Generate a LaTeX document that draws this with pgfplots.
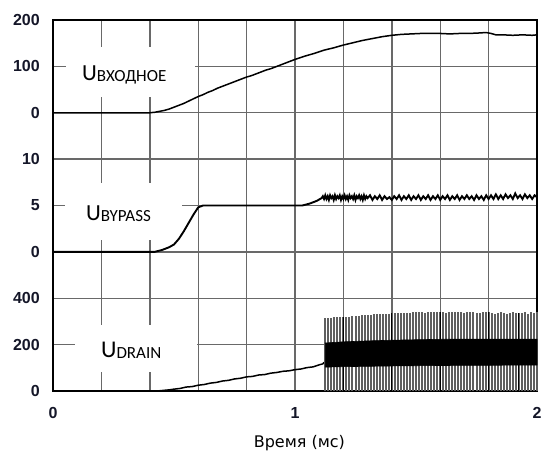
\documentclass[border=0pt]{standalone}
\usepackage{pgfplots}
\pgfplotsset{compat=1.18}
\usepackage{fontspec}
\setmainfont{Liberation Sans}
\newfontfamily\labelfont{Carlito}
\newfontfamily\axisfont{DejaVu Sans}
\definecolor{gridgray}{RGB}{105,105,105}
\definecolor{spikegray}{RGB}{95,95,95}
\definecolor{ticktext}{RGB}{20,22,40}

% Input voltage, V
\pgfplotstableread{
t v
0.00 0
0.10 0
0.20 0
0.30 0
0.40 0
0.42 1
0.44 3
0.46 5
0.48 8
0.50 12
0.52 16
0.54 20
0.56 25
0.58 30
0.60 35
0.62 39
0.64 44
0.66 48
0.68 53
0.70 57
0.72 61
0.74 65
0.76 69
0.78 73
0.80 77
0.82 80
0.84 84
0.86 88
0.88 92
0.90 95
0.92 99
0.94 103
0.96 107
0.98 111
1.00 115
1.04 122
1.08 128
1.12 135
1.16 140
1.20 146
1.24 151
1.28 156
1.32 160
1.36 164
1.40 167
1.44 169
1.48 170
1.52 171
1.56 171
1.60 171
1.64 170
1.68 171
1.72 171
1.76 172
1.79 173
1.81 171
1.83 168
1.86 168
1.90 167
1.94 168
1.98 167
2.00 168
}\inputdata

% BYPASS pin voltage, V
\pgfplotstableread{
t v
0.00 0
0.10 0
0.20 0
0.30 0
0.42 0
0.45 0.2
0.48 0.5
0.50 0.8
0.52 1.4
0.54 2.2
0.56 3.1
0.58 4.0
0.60 4.8
0.62 5.0
0.70 5.0
0.80 5.0
0.90 5.0
1.00 5.0
1.03 5.0
1.06 5.2
1.09 5.5
1.11 5.8
1.115 6.0
1.12 5.7
1.125 6.1
1.13 5.7
1.135 6.0
1.14 5.6
1.145 6.1
1.15 5.8
1.155 6.0
1.16 5.6
1.165 6.1
1.17 5.7
1.175 6.0
1.18 5.8
1.185 6.1
1.19 5.6
1.195 6.0
1.20 5.7
1.205 6.1
1.21 5.7
1.215 6.0
1.22 5.6
1.225 6.1
1.23 5.8
1.235 6.0
1.24 5.7
1.245 6.1
1.25 5.6
1.255 6.0
1.26 5.8
1.265 6.1
1.27 5.7
1.275 6.0
1.28 5.6
1.285 6.1
1.29 5.7
1.295 6.0
1.30 5.8
1.31 6.1
1.32 5.6
1.33 6.0
1.34 5.7
1.35 6.1
1.36 5.6
1.37 6.0
1.38 5.7
1.39 5.9
1.40 5.6
1.41 6.0
1.42 5.7
1.43 6.1
1.44 5.6
1.45 6.0
1.46 5.7
1.47 6.1
1.48 5.6
1.49 6.0
1.50 5.7
1.51 6.1
1.52 5.6
1.53 6.0
1.54 5.7
1.55 6.1
1.56 5.6
1.57 6.0
1.58 5.7
1.59 6.1
1.60 5.6
1.61 6.0
1.62 5.7
1.63 6.1
1.64 5.6
1.65 6.0
1.66 5.7
1.67 6.1
1.68 5.6
1.69 6.0
1.70 5.7
1.71 6.1
1.72 5.7
1.73 6.0
1.74 5.6
1.75 6.1
1.76 5.7
1.77 6.0
1.78 5.6
1.79 6.1
1.80 5.7
1.81 6.1
1.82 5.7
1.83 6.2
1.84 5.7
1.85 6.1
1.86 5.7
1.87 6.2
1.88 5.8
1.89 6.1
1.90 5.7
1.91 6.3
1.92 5.8
1.93 6.1
1.94 5.7
1.95 6.2
1.96 5.8
1.97 6.1
1.98 5.7
1.99 6.1
2.00 5.9
}\bypassdata

% DRAIN voltage before switching starts, V
\pgfplotstableread{
t v
0.00 0
0.20 0
0.43 0
0.46 3
0.48 5
0.50 8
0.525 11
0.55 17
0.575 19
0.60 25
0.625 28
0.65 34
0.675 37
0.70 43
0.725 46
0.75 52
0.775 55
0.80 61
0.825 63
0.85 69
0.875 71
0.90 77
0.925 80
0.95 85
0.975 87
1.00 92
1.025 95
1.05 101
1.075 104
1.10 113
1.115 117
1.12 124
}\drainramp

% DRAIN switching peaks, V
\pgfplotstableread{
t v
1.1250 314
1.1375 316
1.1500 315
1.1625 317
1.1750 318
1.1875 318
1.2000 320
1.2125 321
1.2250 320
1.2375 322
1.2500 324
1.2625 323
1.2750 326
1.2875 327
1.3000 328
1.3125 329
1.3250 330
1.3375 331
1.3500 331
1.3625 333
1.3750 334
1.3875 334
1.4000 335
1.4125 336
1.4250 336
1.4375 337
1.4500 337
1.4625 338
1.4750 338
1.4875 339
1.5000 340
1.5125 339
1.5250 340
1.5375 338
1.5500 341
1.5625 339
1.5750 340
1.5875 341
1.6000 339
1.6125 340
1.6250 338
1.6375 341
1.6500 340
1.6625 339
1.6750 341
1.6875 340
1.7000 338
1.7125 340
1.7250 341
1.7375 339
1.7500 337
1.7625 335
1.7750 339
1.7875 341
1.8000 340
1.8125 338
1.8250 334
1.8375 338
1.8500 340
1.8625 336
1.8750 333
1.8875 337
1.9000 340
1.9125 335
1.9250 338
1.9375 336
1.9500 340
1.9625 334
1.9750 339
1.9875 337
1.9990 340
}\drainpeaks

% DRAIN envelope of the dense switching band, V (closed outline)
\pgfplotstableread{
t v
1.125 207
1.20 212
1.30 216
1.40 219
1.50 221
1.60 223
1.80 224
2.00 224
2.00 112
1.80 111
1.60 110
1.40 108
1.20 105
1.125 103
}\drainband

\begin{document}
\begin{tikzpicture}
\begin{axis}[
  scale only axis, width=484pt, height=371pt,
  xmin=0, xmax=2, ymin=0, ymax=8,
  xtick={0,0.2,0.4,0.6,0.8,1,1.2,1.4,1.6,1.8,2},
  xticklabels={0,,,,,1,,,,,2},
  ytick={0,1,2,3,4,5,6,7,8},
  yticklabels={0,200,400,0,5,10,0,100,200},
  grid=major,
  major grid style={draw=gridgray, line width=1.4pt},
  axis line style={line width=1.8pt, black},
  major tick length=0pt,
  tick label style={font=\bfseries\fontsize{16}{16}\selectfont, text=ticktext},
  yticklabel style={anchor=east, inner sep=0pt, xshift=-13pt},
  xticklabel style={anchor=north, inner sep=0pt, yshift=-16pt},
  xlabel={Время (мс)},
  xlabel style={font=\axisfont\fontsize{16}{16}\selectfont,
    at={(axis description cs:0.509,0)}, anchor=base, inner sep=0pt, yshift=-56pt},
  clip=false,
]
% label backgrounds
\node[fill=white, inner sep=0pt, minimum width=129pt, minimum height=50pt] at (axis cs:0.320,6.88) {};
\node[fill=white, inner sep=0pt, minimum width=117pt, minimum height=57pt] at (axis cs:0.291,3.87) {};
\node[fill=white, inner sep=0pt, minimum width=122pt, minimum height=47pt] at (axis cs:0.343,0.916) {};

% input voltage: 100 V per division, panel zero at 6
\addplot[black, line width=1.5pt, y filter/.expression={y/100+6}] table[x=t, y=v] {\inputdata};
% bypass voltage: 5 V per division, panel zero at 3
\addplot[black, line width=1.9pt, y filter/.expression={y/5+3}] table[x=t, y=v] {\bypassdata};
% drain voltage: 200 V per division, panel zero at 0
\addplot[black, line width=1.5pt, y filter/.expression={y/200}] table[x=t, y=v] {\drainramp};
\addplot[ycomb, spikegray, line width=2pt, y filter/.expression={y/200}] table[x=t, y=v] {\drainpeaks};
\addplot[ycomb, black, line width=1.2pt, y filter/.expression={y/200}] coordinates {(1.2,320) (1.4,335) (1.6,339) (1.8,340) (1.925,338)};
\addplot[fill=black, draw=black, line width=0.6pt, y filter/.expression={y/200}] table[x=t, y=v] {\drainband} -- cycle;

% trace names
\node[anchor=base west, inner sep=0pt, font=\labelfont] at (axis cs:0.120,6.685)
  {\fontsize{23}{23}\selectfont U\fontsize{17}{17}\selectfont\raisebox{-1pt}{ВХОДНОЕ}};
\node[anchor=base west, inner sep=0pt, font=\labelfont] at (axis cs:0.136,3.687)
  {\fontsize{23}{23}\selectfont U\fontsize{17}{17}\selectfont\raisebox{-1pt}{BYPASS}};
\node[anchor=base west, inner sep=0pt, font=\labelfont] at (axis cs:0.198,0.712)
  {\fontsize{24}{24}\selectfont U\fontsize{17}{17}\selectfont\raisebox{-1pt}{DRAIN}};
\end{axis}
\pgfresetboundingbox
\path (-53pt,-59pt) rectangle (492pt,391pt);
\end{tikzpicture}
\end{document}
